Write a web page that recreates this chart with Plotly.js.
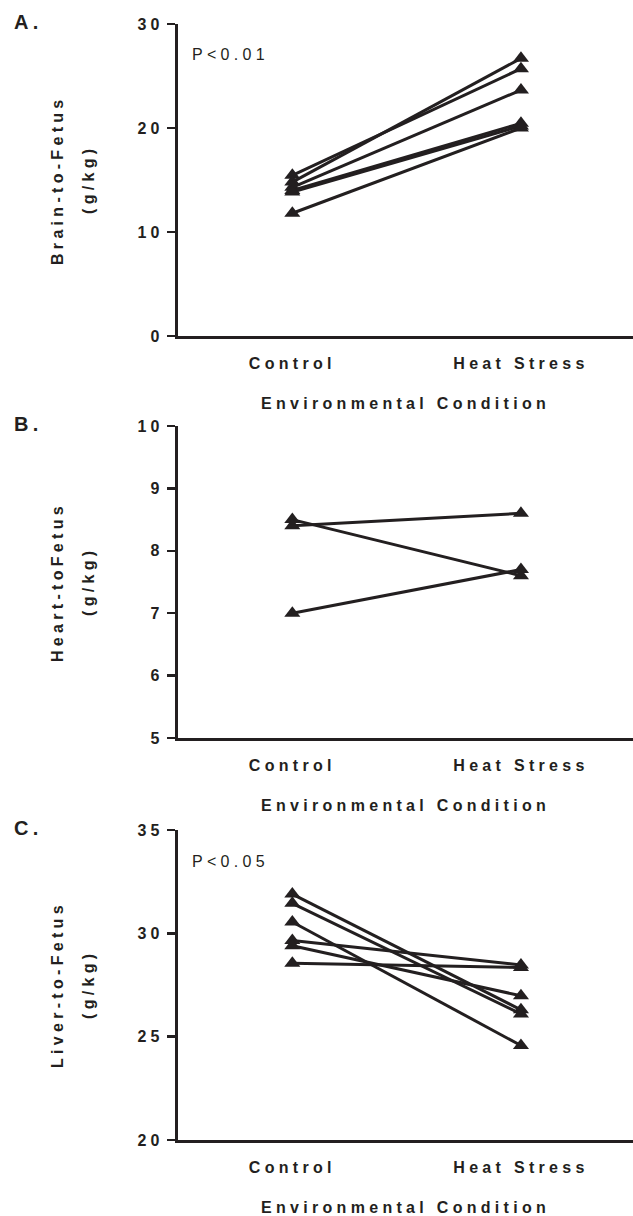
<!DOCTYPE html>
<html>
<head>
<meta charset="utf-8">
<script src="https://cdn.plot.ly/plotly-3.0.1.min.js"></script>
<style>
  html, body { margin: 0; padding: 0; background: #fff; }
  #chart { width: 633px; height: 1216px; }
  .xtick text, .ytick text, .x2tick text, .y2tick text, .x3tick text, .y3tick text { letter-spacing: 4.3px; }
  .annotation-text { letter-spacing: 4.3px; }
</style>
</head>
<body>
<div id="chart"></div>
<script>
// ---- data ----
const categories = ['Control', 'Heat Stress'];

const brainControl = [15.45, 14.8, 14.3, 14.0, 13.85, 11.8];
const brainHeat    = [25.7, 26.7, 23.65, 20.45, 20.2, 20.0];

const heartControl = [8.5, 8.4, 7.0];
const heartHeat    = [7.6, 8.6, 7.7];

const liverControl = [31.9, 31.45, 30.55, 29.65, 29.4, 28.55];
const liverHeat    = [26.3, 26.1, 24.57, 28.47, 26.98, 28.35];

const brainTicks = [0, 10, 20, 30];
const heartTicks = [5, 6, 7, 8, 9, 10];
const liverTicks = [20, 25, 30, 35];

const panelLabels = ['A.', 'B.', 'C.'];
const yTitles = [['Brain-to-Fetus', '(g/kg)'], ['Heart-toFetus', '(g/kg)'], ['Liver-to-Fetus', '(g/kg)']];
const xTitle = 'Environmental Condition';
const pTexts = ['P<0.01', null, 'P<0.05'];

// ---- layout helpers ----
const W = 633, H = 1216;
const px = x => x / W;
const py = y => 1 - y / H;
const INK = '#231f20';
const FONT = 'Liberation Sans, Arial, sans-serif';

const panels = [
  { ctrl: brainControl, heat: brainHeat, ticks: brainTicks, range: [0, 30], top: 24, bottom: 336 },
  { ctrl: heartControl, heat: heartHeat, ticks: heartTicks, range: [5, 10], top: 426, bottom: 738 },
  { ctrl: liverControl, heat: liverHeat, ticks: liverTicks, range: [20, 35], top: 830, bottom: 1140 }
];

const data = [];
const layout = {
  width: W, height: H,
  margin: { l: 0, r: 0, t: 0, b: 0 },
  paper_bgcolor: '#fff', plot_bgcolor: '#fff',
  showlegend: false,
  font: { family: FONT, color: INK },
  annotations: []
};

const xDomain = [178 / W, 1];

panels.forEach((p, k) => {
  const sfx = k === 0 ? '' : String(k + 1);
  const xa = 'x' + sfx, ya = 'y' + sfx;
  for (let i = 0; i < p.ctrl.length; i++) {
    data.push({
      x: categories,
      y: [p.ctrl[i], p.heat[i]],
      xaxis: xa, yaxis: ya,
      type: 'scatter',
      mode: 'lines+markers',
      line: { color: INK, width: 3 },
      marker: { symbol: 'triangle-up', size: 14, color: INK },
      cliponaxis: false,
      hoverinfo: 'skip'
    });
  }
  layout['xaxis' + sfx] = {
    domain: xDomain,
    anchor: ya,
    type: 'category',
    range: [-0.5, 1.49],
    showline: true, linewidth: 3, linecolor: INK,
    ticks: '', showgrid: false, zeroline: false,
    tickfont: { family: FONT, size: 16, weight: 'bold', color: INK },
    ticklabelstandoff: 11,
    fixedrange: true
  };
  layout['yaxis' + sfx] = {
    domain: [py(p.bottom), py(p.top)],
    anchor: xa,
    range: p.range,
    tickmode: 'array', tickvals: p.ticks, ticktext: p.ticks.map(String),
    showline: true, linewidth: 3, linecolor: INK,
    ticks: 'outside', ticklen: 8, tickwidth: 2.5, tickcolor: INK,
    showgrid: false, zeroline: false,
    tickfont: { family: FONT, size: 16, weight: 'bold', color: INK },
    fixedrange: true
  };
  const mid = (p.top + p.bottom) / 2;
  layout.annotations.push(
    { text: panelLabels[k], xref: 'paper', yref: 'paper', x: px(12), y: py(p.top - 2),
      xanchor: 'left', yanchor: 'middle', showarrow: false,
      font: { family: FONT, size: 20, weight: 'bold', color: INK } },
    { text: yTitles[k][0], xref: 'paper', yref: 'paper', x: px(57), y: py(mid),
      xanchor: 'center', yanchor: 'middle', textangle: -90, showarrow: false,
      font: { family: FONT, size: 16, weight: 'bold', color: INK } },
    { text: yTitles[k][1], xref: 'paper', yref: 'paper', x: px(88), y: py(mid),
      xanchor: 'center', yanchor: 'middle', textangle: -90, showarrow: false,
      font: { family: FONT, size: 16, weight: 'bold', color: INK } },
    { text: xTitle, xref: 'paper', yref: 'paper', x: (xDomain[0] + xDomain[1]) / 2, y: py(p.bottom + 67),
      xanchor: 'center', yanchor: 'middle', showarrow: false,
      font: { family: FONT, size: 16, weight: 'bold', color: INK } }
  );
  if (pTexts[k]) {
    layout.annotations.push({
      text: pTexts[k], xref: 'paper', yref: 'paper', x: px(190), y: py(p.top + 31),
      xanchor: 'left', yanchor: 'middle', showarrow: false,
      font: { family: FONT, size: 16, color: INK }
    });
  }
});

Plotly.newPlot('chart', data, layout, { staticPlot: true, displayModeBar: false });
</script>
</body>
</html>
